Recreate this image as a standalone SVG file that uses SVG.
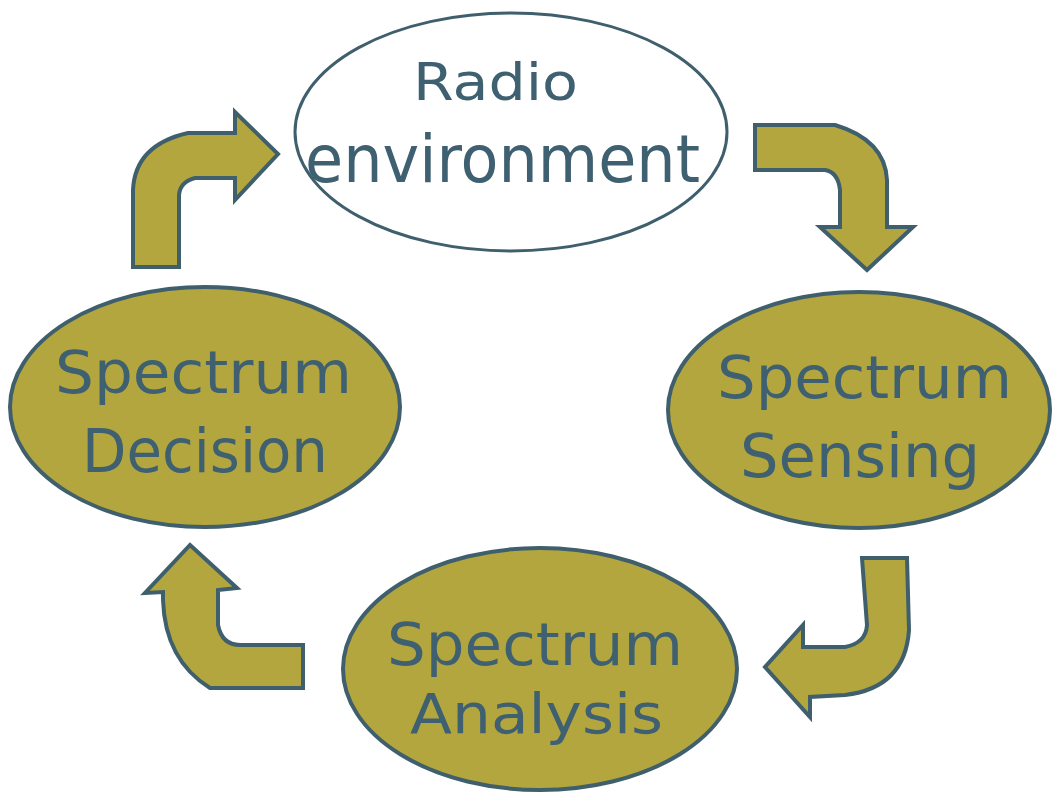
<svg xmlns="http://www.w3.org/2000/svg" width="1052" height="794" viewBox="0 0 1052 794">
<style>
.node{fill:#b4a63f;stroke:#3f5f6d;stroke-width:4}
.white{fill:#ffffff;stroke:#3f5f6d;stroke-width:3}
.arrow{fill:#b4a63f;stroke:#3f5f6d;stroke-width:4;stroke-linejoin:miter}
.lbl{font-family:"DejaVu Sans","Verdana",sans-serif;fill:#3f6070;text-anchor:middle}
</style>
<rect width="1052" height="794" fill="#ffffff"/>
<g id="connectors">
<path class="arrow" d="M133,267 L133,190 Q135,145 188,133 L235,133 L235,112 L278,154 L235,200 L235,178 L195,178 Q180,182 179,195 L179,267 Z"/>
<path class="arrow" d="M755,125 L835,125 Q885,140 887,180 L887,227 L913,227 L867,270 L820,227 L840,227 L840,190 Q838,172 825,170 L755,170 Z"/>
<path class="arrow" d="M862,558 L907,558 L909,630 Q905,688 845,695 L810,697 L810,717 L765,667 L803,625 L803,647 L845,647 Q866,643 867,625 Z"/>
<path class="arrow" d="M190,545 L237,588 L218,590 L218,625 Q222,645 240,645 L303,645 L303,688 L210,688 Q165,660 163,600 L163,592 L145,593 Z"/>
</g>
<g id="radio-environment">
<ellipse class="white" cx="511" cy="132" rx="216" ry="119"/>
<text class="lbl" x="495.5" y="100" font-size="52" textLength="165" lengthAdjust="spacingAndGlyphs">Radio</text>
<text class="lbl" x="502.5" y="182" font-size="66" textLength="395" lengthAdjust="spacingAndGlyphs">environment</text>
</g>
<g id="spectrum-sensing">
<ellipse class="node" cx="859" cy="410" rx="191" ry="118"/>
<text class="lbl" x="864.5" y="398" font-size="59" textLength="295" lengthAdjust="spacingAndGlyphs">Spectrum</text>
<text class="lbl" x="860" y="477" font-size="60" textLength="240" lengthAdjust="spacingAndGlyphs">Sensing</text>
</g>
<g id="spectrum-analysis">
<ellipse class="node" cx="540" cy="669" rx="197" ry="121"/>
<text class="lbl" x="535" y="665" font-size="58" textLength="296" lengthAdjust="spacingAndGlyphs">Spectrum</text>
<text class="lbl" x="536.5" y="733" font-size="56" textLength="253" lengthAdjust="spacingAndGlyphs">Analysis</text>
</g>
<g id="spectrum-decision">
<ellipse class="node" cx="205" cy="407" rx="195" ry="120"/>
<text class="lbl" x="203.5" y="393" font-size="59" textLength="297" lengthAdjust="spacingAndGlyphs">Spectrum</text>
<text class="lbl" x="205" y="472" font-size="60" textLength="246" lengthAdjust="spacingAndGlyphs">Decision</text>
</g>
</svg>
